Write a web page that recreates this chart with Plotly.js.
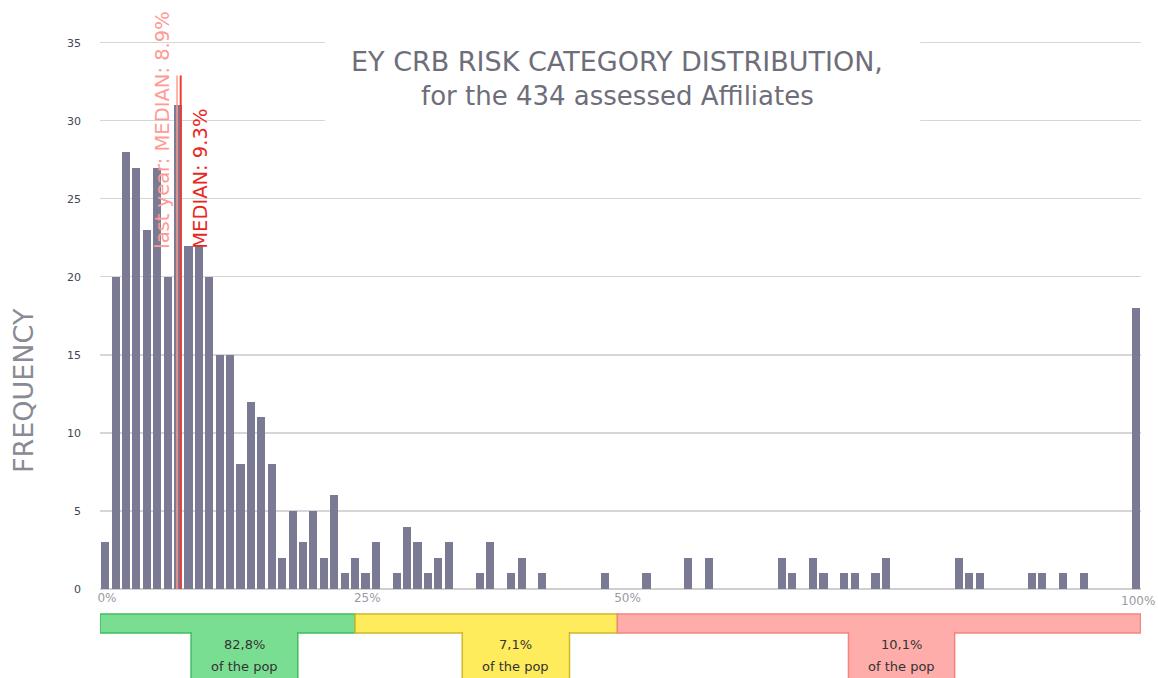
<!DOCTYPE html>
<html>
<head>
<meta charset="utf-8">
<script src="https://cdn.plot.ly/plotly-3.0.1.min.js"></script>
<style>html,body{margin:0;padding:0;background:#fff;}#chart{width:1158px;height:678px;}</style>
</head>
<body>
<div id="chart"></div>
<script>
// Frequency per 1% risk bin (bin 0 = 0-1%, ..., bin 99 = 99-100%)
const binIndex = Array.from({length: 100}, (_, i) => i);
const frequencies = [
  3, 20, 28, 27, 23, 27, 20, 31, 22, 22,
  20, 15, 15, 8, 12, 11, 8, 2, 5, 3,
  5, 2, 6, 1, 2, 1, 3, 0, 1, 4,
  3, 1, 2, 3, 0, 0, 1, 3, 0, 1,
  2, 0, 1, 0, 0, 0, 0, 0, 1, 0,
  0, 0, 1, 0, 0, 0, 2, 0, 2, 0,
  0, 0, 0, 0, 0, 2, 1, 0, 2, 1,
  0, 1, 1, 0, 1, 2, 0, 0, 0, 0,
  0, 0, 2, 1, 1, 0, 0, 0, 0, 1,
  1, 0, 1, 0, 1, 0, 0, 0, 0, 18
];
const xTickVals = [0, 25, 50, 100];
const xTickText = ['0%', '25%', '50%', '100%'];
const yTickVals = [0, 5, 10, 15, 20, 25, 30, 35];

// Median markers (position on the category axis, label)
const medianLastYear = {pos: 7.4, label: 'last year: MEDIAN: 8.9%'};
const medianCurrent = {pos: 7.75, label: 'MEDIAN: 9.3%'};
const medianLineTop = 32.9;

// Risk category bands
const bandNames = ['low', 'medium', 'high'];
const bandStart = [0, 24.5, 49.7];
const bandEnd = [24.5, 49.7, 99.95];
const bandShare = ['82,8%', '7,1%', '10,1%'];
const tagStart = [8.75, 34.8, 71.9];
const tagEnd = [19.0, 45.1, 82.1];
const bandFill = ['#7ade92', '#ffec5c', '#ffadaa'];
const bandLine = ['#3fbf5f', '#cdb82a', '#f7837f'];

const barX = binIndex.map(i => i + 0.5);

const trace = {
  type: 'bar',
  x: barX,
  y: frequencies,
  width: 0.78,
  marker: {color: '#7a7a94'},
  hoverinfo: 'x+y'
};

const shapes = [];
const annotations = [];

// white box behind the title
shapes.push({type: 'rect', xref: 'paper', yref: 'paper', x0: 0.216, x1: 0.788, y0: 0.845, y1: 1.02,
  fillcolor: '#ffffff', line: {width: 0}, layer: 'above'});

// median lines
shapes.push({type: 'line', xref: 'x', yref: 'y', x0: medianLastYear.pos, x1: medianLastYear.pos, y0: 0, y1: medianLineTop,
  line: {color: '#ff9a94', width: 1.5}, layer: 'above'});
shapes.push({type: 'line', xref: 'x', yref: 'y', x0: medianCurrent.pos, x1: medianCurrent.pos, y0: 0, y1: medianLineTop,
  line: {color: '#f03c32', width: 2}, layer: 'above'});

annotations.push({xref: 'x', yref: 'y', x: medianLastYear.pos - 1.35, y: 21.7, text: medianLastYear.label,
  textangle: -90, showarrow: false, xanchor: 'center', yanchor: 'bottom',
  font: {family: 'DejaVu Sans, Verdana, sans-serif', size: 19.5, color: '#ff9a94'}});
annotations.push({xref: 'x', yref: 'y', x: medianCurrent.pos + 1.9, y: 21.7, text: medianCurrent.label,
  textangle: -90, showarrow: false, xanchor: 'center', yanchor: 'bottom',
  font: {family: 'DejaVu Sans, Verdana, sans-serif', size: 19.5, color: '#e8281e'}});

// title
annotations.push({xref: 'paper', yref: 'paper', x: 0.497, y: 0.957, showarrow: false, xanchor: 'center', yanchor: 'middle',
  text: 'EY CRB RISK CATEGORY DISTRIBUTION,', font: {family: 'DejaVu Sans, sans-serif', size: 27, color: '#6e6e7a'}});
annotations.push({xref: 'paper', yref: 'paper', x: 0.497, y: 0.894, showarrow: false, xanchor: 'center', yanchor: 'middle',
  text: 'for the 434 assessed Affiliates', font: {family: 'DejaVu Sans, sans-serif', size: 26, color: '#6e6e7a'}});

// y axis title
annotations.push({xref: 'paper', yref: 'paper', x: -0.074, y: 0.361, showarrow: false, textangle: -90,
  xanchor: 'center', yanchor: 'middle', text: 'FREQUENCY',
  font: {family: 'DejaVu Sans, sans-serif', size: 27, color: '#8a8a94'}});

// last x tick label (kept inside the page edge)
annotations.push({xref: 'x', yref: 'paper', x: xTickVals[3], y: -0.005, showarrow: false,
  xanchor: 'right', yanchor: 'top', xshift: 16, text: xTickText[3],
  font: {family: 'DejaVu Sans, Verdana, sans-serif', size: 12, color: '#9a9aa4'}});

// bands and tags
const bandY0 = -0.0454, bandY1 = -0.0799, tagY1 = -0.175;
bandNames.forEach((n, k) => {
  shapes.push({type: 'rect', xref: 'x', yref: 'paper', x0: bandStart[k], x1: bandEnd[k], y0: bandY1, y1: bandY0,
    fillcolor: bandFill[k], line: {color: bandLine[k], width: 1.5}, layer: 'above'});
  shapes.push({type: 'rect', xref: 'x', yref: 'paper', x0: tagStart[k], x1: tagEnd[k], y0: tagY1, y1: bandY1,
    fillcolor: bandFill[k], line: {color: bandLine[k], width: 1.5}, layer: 'above'});
  // cover the top border of the tag so it joins the band
  shapes.push({type: 'line', xref: 'x', yref: 'paper', x0: tagStart[k] + 0.08, x1: tagEnd[k] - 0.08, y0: bandY1, y1: bandY1,
    line: {color: bandFill[k], width: 2}, layer: 'above'});
  annotations.push({xref: 'x', yref: 'paper', x: (tagStart[k] + tagEnd[k]) / 2, y: -0.101, showarrow: false,
    xanchor: 'center', yanchor: 'middle', text: bandShare[k],
    font: {family: 'DejaVu Sans, Verdana, sans-serif', size: 13, color: '#333333'}});
  annotations.push({xref: 'x', yref: 'paper', x: (tagStart[k] + tagEnd[k]) / 2, y: -0.141, showarrow: false,
    xanchor: 'center', yanchor: 'middle', text: 'of the pop',
    font: {family: 'DejaVu Sans, Verdana, sans-serif', size: 13, color: '#333333'}});
});

const layout = {
  width: 1158, height: 678,
  margin: {l: 100, r: 17, t: 38, b: 89},
  paper_bgcolor: '#ffffff', plot_bgcolor: '#ffffff',
  showlegend: false,
  bargap: 0,
  xaxis: {
    range: [0, 100], tickvals: xTickVals.slice(0, 3), ticktext: xTickText.slice(0, 3),
    showgrid: false, zeroline: false, showline: false, ticks: '',
    ticklabelshift: 7, ticklabelstandoff: 0,
    tickfont: {family: 'DejaVu Sans, Verdana, sans-serif', size: 12, color: '#9a9aa4'},
    fixedrange: true
  },
  yaxis: {
    range: [0, 35.3], tickvals: yTickVals,
    showgrid: true, gridcolor: '#d6d6d6', gridwidth: 1.3,
    zeroline: true, zerolinecolor: '#cfcfcf', zerolinewidth: 1.3,
    showline: false, ticks: '', ticklabelstandoff: 18,
    tickfont: {family: 'DejaVu Sans, Verdana, sans-serif', size: 11, color: '#444455'},
    fixedrange: true
  },
  shapes: shapes,
  annotations: annotations
};

Plotly.newPlot('chart', [trace], layout, {displayModeBar: false, staticPlot: true});
</script>
</body>
</html>
